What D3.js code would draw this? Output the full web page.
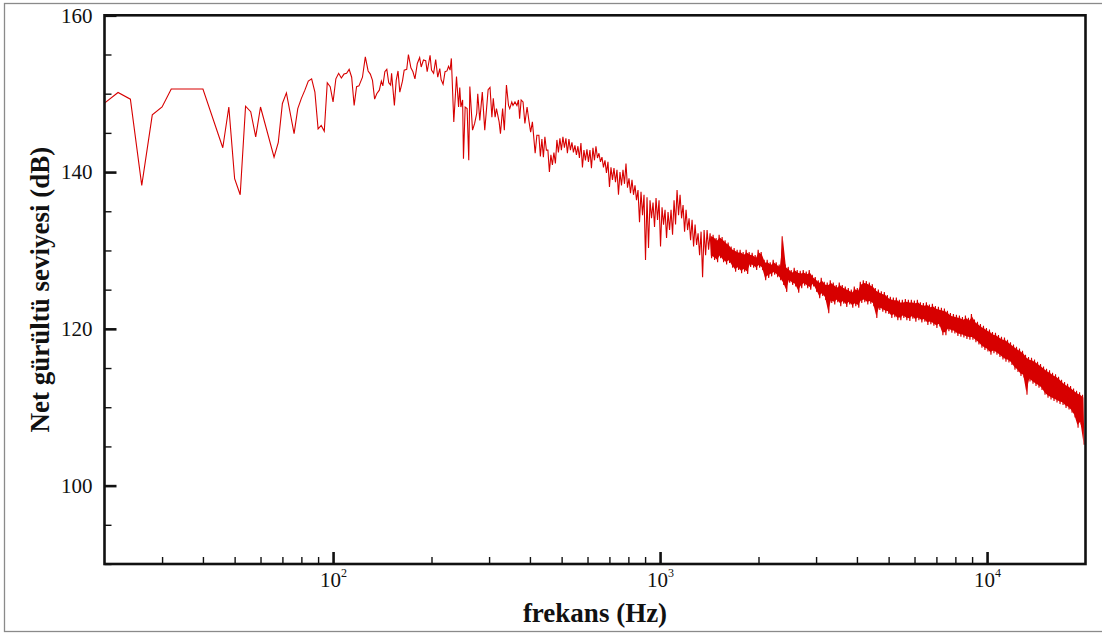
<!DOCTYPE html>
<html>
<head>
<meta charset="utf-8">
<script src="https://cdn.jsdelivr.net/npm/d3@7"></script>
<style>
	body { margin: 0; background: #fff; }
	svg { display: block; }
	text { font-family: "Liberation Serif", "Times New Roman", serif; fill: #111; }
</style>
</head>
<body>
<div id="chart"></div>
<script>
// low / mid range: individual spectrum points (Hz, dB)
var lowFreq = [20,22,24,26,28,30,32,40,46,48,50,52,54,56,58,60,66,68,70,72,76,78,80,82,84,86,88,90,92,94,96,98,
	100,102,104,106,108,110,112,114,116,118,120,123,125.5,128,130,132,134,136,138.5,140.5,142,144,146,148,150,151,
	154,156,158,160,163,165,168,170,173,175.5,178,181,184,186,189,192,194,198,200,203,206,209,212,214,217,220,223,
	225.5,228,230,234,238.5,242,244,246,249,250.5,253.5,257,260,262,267,271,275,277,281,286,291,295,298,302,306,
	309,313,316,322,325,330,334,339,344,347,352,355,360,365,369,372,376,381,386,392,397,402,407,415,420];
var lowLevel = [148.8,150.15,149.3,138.3,147.3,148.3,150.6,150.6,143.1,148.3,139.15,137.1,148.4,147.7,144.5,148.3,
	141.9,143.8,148.75,150.1,144.9,148.1,149.4,150.45,151.6,151.9,150.2,145.5,145.95,145.2,151.4,150.9,
	148.95,151.9,152.6,152.0,152.5,152.6,153.1,152.1,148.5,150.9,151.0,152.1,154.7,152.9,152.5,151.7,149.3,150.0,
	150.45,151.6,151.0,152.8,153.1,151.4,151.1,152.6,148.5,151.7,152.9,150.2,151.6,153.0,153.1,155.0,153.3,152.8,
	151.9,153.85,154.6,153.4,154.3,154.2,152.8,154.9,153.0,152.6,154.35,152.1,153.2,151.8,151.2,152.8,152.9,
	153.5,153.0,154.5,146.4,152.2,148.3,150.8,148.3,149.2,141.7,148.3,148.1,141.5,150.9,145.35,146.2,147.5,150.0,
	146.6,150.2,145.35,148.3,150.5,150.8,147.0,149.4,147.0,148.1,146.4,144.9,148.1,145.35,151.1,148.5,148.1,
	148.95,148.5,148.95,148.5,149.2,146.8,149.2,148.95,146.2,148.3,146.6,145.1,146.4,142.4,144.7];

// dense range: per bin max / min level, bins evenly spaced in log frequency
var bandStartHz = 426, bandEndHz = 19800;
var bandHigh = [144.7,144.2,144.5,142.8,142.2,142.5,144.1,144.3,144.5,144.3,
	144.2,143.8,143.4,143.3,143.7,142.8,142.9,142.8,143.1,143.3,
	142.4,141.9,141.5,141.3,140.6,140.5,140.3,140.0,140.3,141.1,
	139.2,139.0,138.3,137.7,137.5,137.1,136.8,136.4,136.1,136.7,
	136.4,135.5,135.2,134.9,135.2,136.4,137.7,137.1,135.8,135.2,
	134.1,133.9,133.3,132.2,132.4,132.6,132.6,132.2,132.0,131.6,
	132.0,131.7,131.3,131.0,130.5,130.3,130.1,130.1,129.8,130.1,
	129.8,129.7,129.4,130.1,129.8,128.8,128.8,128.5,128.8,128.5,
	128.2,131.8,128.2,127.9,127.5,127.8,127.5,127.4,127.5,127.3,
	127.5,126.9,126.6,126.2,126.5,126.0,125.9,126.2,125.9,125.6,
	125.9,125.6,125.4,125.2,125.0,125.4,125.2,126.0,126.2,126.1,
	125.9,125.7,125.2,125.0,124.8,124.7,124.3,124.1,124.0,124.0,
	123.7,123.7,123.8,123.7,123.7,123.6,123.7,123.4,123.3,123.4,
	123.1,123.2,122.9,122.8,122.7,122.6,122.3,122.0,121.9,121.8,
	121.7,121.5,121.7,121.4,121.9,121.2,120.9,120.6,120.4,120.1,
	119.9,119.6,119.5,119.2,119.0,118.9,118.6,118.3,118.0,117.7,
	117.5,117.2,116.7,116.4,116.3,116.1,115.8,115.5,115.2,114.9,
	114.7,114.4,114.2,113.9,113.5,113.2,113.0,112.7,112.4,112.1,
	111.9,111.6];
var bandLow = [142.0,141.9,142.8,140.0,140.9,141.1,142.5,142.8,143.1,142.4,
	142.8,142.5,142.2,141.8,140.6,141.5,141.3,140.5,141.5,141.8,
	141.3,140.6,139.9,138.1,139.0,138.7,137.1,138.3,138.5,138.0,
	137.3,137.1,136.4,133.6,134.5,128.8,130.3,134.1,133.0,133.9,
	130.5,133.3,131.6,132.6,132.0,133.3,134.5,134.1,132.4,132.6,
	131.3,130.5,130.7,129.4,126.6,129.4,130.1,129.0,128.8,128.5,
	129.0,128.5,128.2,128.4,127.8,127.3,127.5,127.1,127.3,127.0,
	127.9,127.8,127.5,127.8,127.5,126.2,126.5,126.7,126.9,126.6,
	126.2,125.6,124.7,125.9,125.6,125.4,124.6,125.2,125.5,125.2,
	125.0,125.4,124.7,123.9,124.2,123.7,122.0,123.3,123.1,123.4,
	122.9,123.2,122.8,123.1,122.7,122.9,122.7,123.3,123.4,123.1,
	123.2,122.9,121.4,122.4,122.2,122.0,121.9,121.4,121.5,121.1,
	121.1,121.4,121.1,121.0,121.3,120.9,121.1,120.8,120.9,120.5,
	120.6,120.4,120.1,120.3,119.2,119.2,119.7,119.5,119.4,119.1,
	119.0,118.9,118.7,118.6,118.6,118.3,118.0,117.6,117.3,117.1,
	116.7,116.9,116.7,116.4,116.1,115.8,115.7,115.4,114.8,114.5,
	114.0,113.8,111.6,113.3,113.0,112.7,112.5,112.2,111.6,111.2,
	111.0,110.8,110.6,110.4,110.3,109.9,109.7,109.3,108.7,107.4,
	107.8,105.2];

var yMajor = [100, 120, 140, 160];
var yMinor = [90, 95, 105, 110, 115, 125, 130, 135, 145, 150, 155];
var xMajor = [100, 1000, 10000];
var xMinor = [30,40,50,60,70,80,90,200,300,400,500,600,700,800,900,2000,3000,4000,5000,6000,7000,8000,9000];

var width = 1102, height = 633;
var plotLeft = 104.5, plotRight = 1085.5, plotTop = 15.3, plotBottom = 564;
var red = "#d70000";

var svg = d3.select("#chart").append("svg")
	.attr("width", width)
	.attr("height", height);

// outer grey frame
svg.append("rect")
	.attr("x", 4.5).attr("y", 3.5)
	.attr("width", 1110).attr("height", 628)
	.attr("fill", "none")
	.attr("stroke", "#8a8a8a")
	.attr("stroke-width", 1.3);

var x = d3.scaleLog().domain([20, 20000]).range([plotLeft, plotRight]);
var y = d3.scaleLinear().domain([90, 160]).range([plotBottom, plotTop]);

// build the point list: single points, then the dense part as max/min per bin
var points = [];
for (var i = 0; i < lowFreq.length; i++) {
	points.push([lowFreq[i], lowLevel[i]]);
}
var n = bandHigh.length;
var steps = 2 * n - 1;
var bins = [];
for (var j = 0; j < 2 * n; j++) {
	var f = bandStartHz * Math.pow(bandEndHz / bandStartHz, j / steps);
	var v = (j % 2 === 0) ? bandHigh[j >> 1] : bandLow[j >> 1];
	points.push([f, v]);
	if (j % 2 === 1) {
		var fc = bandStartHz * Math.pow(bandEndHz / bandStartHz, (j - 0.5) / steps);
		bins.push({f: fc, hi: bandHigh[j >> 1], lo: bandLow[j >> 1]});
	}
}

svg.append("clipPath").attr("id", "plotclip")
	.append("rect")
	.attr("x", plotLeft).attr("y", plotTop)
	.attr("width", plotRight - plotLeft).attr("height", plotBottom - plotTop);

var plot = svg.append("g").attr("clip-path", "url(#plotclip)");

// the dense band: area between bin max and min, only where the band is wide
var area = d3.area()
	.x(function(d) { return x(d.f); })
	.y0(function(d) { return y(d.lo + 0.35); })
	.y1(function(d) { return y(d.hi - 0.35); })
	.defined(function(d) { return d.f > 1400; });

plot.append("path")
	.datum(bins)
	.attr("fill", red)
	.attr("d", area);

var line = d3.line()
	.x(function(d) { return x(d[0]); })
	.y(function(d) { return y(d[1]); });

plot.append("path")
	.datum(points)
	.attr("fill", "none")
	.attr("stroke", red)
	.attr("stroke-width", 1.1)
	.attr("d", line);

// y axis ticks (inward)
var yAxisMinor = d3.axisLeft(y).tickValues(yMinor).tickSize(-7).tickFormat("");
var gyMinor = svg.append("g").attr("transform", "translate(" + plotLeft + ",0)").call(yAxisMinor);
gyMinor.select(".domain").remove();
gyMinor.selectAll("line").attr("stroke", "#111").attr("stroke-width", 1.4);

var yAxis = d3.axisLeft(y).tickValues(yMajor).tickSize(-12).tickPadding(12)
	.tickFormat(d3.format("d"));
var gy = svg.append("g").attr("transform", "translate(" + plotLeft + ",0)").call(yAxis);
gy.select(".domain").remove();
gy.selectAll("line").attr("stroke", "#111").attr("stroke-width", 2.6);
gy.selectAll("text")
	.attr("font-size", 21)
	.attr("font-family", "Liberation Serif, Times New Roman, serif")
	.attr("fill", "#111");

// x axis ticks (inward)
var xAxisMinor = d3.axisBottom(x).tickValues(xMinor).tickSize(-7).tickFormat("");
var gxMinor = svg.append("g").attr("transform", "translate(0," + plotBottom + ")").call(xAxisMinor);
gxMinor.select(".domain").remove();
gxMinor.selectAll("line").attr("stroke", "#111").attr("stroke-width", 1.4);

var xAxis = d3.axisBottom(x).tickValues(xMajor).tickSize(-12).tickFormat("");
var gx = svg.append("g").attr("transform", "translate(0," + plotBottom + ")").call(xAxis);
gx.select(".domain").remove();
gx.selectAll("line").attr("stroke", "#111").attr("stroke-width", 2.6);

// plot frame
svg.append("rect")
	.attr("x", plotLeft).attr("y", plotTop)
	.attr("width", plotRight - plotLeft).attr("height", plotBottom - plotTop)
	.attr("fill", "none")
	.attr("stroke", "#111")
	.attr("stroke-width", 2.6);

// x tick labels: 10^n with white box
gx.selectAll(".tick").each(function(d) {
	var t = d3.select(this);
	t.append("rect")
		.attr("x", -16).attr("y", 1.5)
		.attr("width", 33).attr("height", 22)
		.attr("fill", "#fff");
	var label = t.append("text")
		.attr("y", 23)
		.attr("text-anchor", "middle")
		.attr("font-size", 21)
		.attr("font-family", "Liberation Serif, Times New Roman, serif")
		.attr("fill", "#111");
	label.append("tspan").text("10");
	label.append("tspan")
		.attr("font-size", 12)
		.attr("dy", -10)
		.text(Math.round(Math.log10(d)));
});

// axis titles
svg.append("text")
	.attr("x", (plotLeft + plotRight) / 2)
	.attr("y", 622)
	.attr("text-anchor", "middle")
	.attr("font-size", 27)
	.attr("font-weight", "bold")
	.text("frekans (Hz)");

svg.append("text")
	.attr("transform", "translate(49," + ((plotTop + plotBottom) / 2) + ") rotate(-90)")
	.attr("text-anchor", "middle")
	.attr("font-size", 27)
	.attr("font-weight", "bold")
	.text("Net gürültü seviyesi (dB)");
</script>
</body>
</html>
